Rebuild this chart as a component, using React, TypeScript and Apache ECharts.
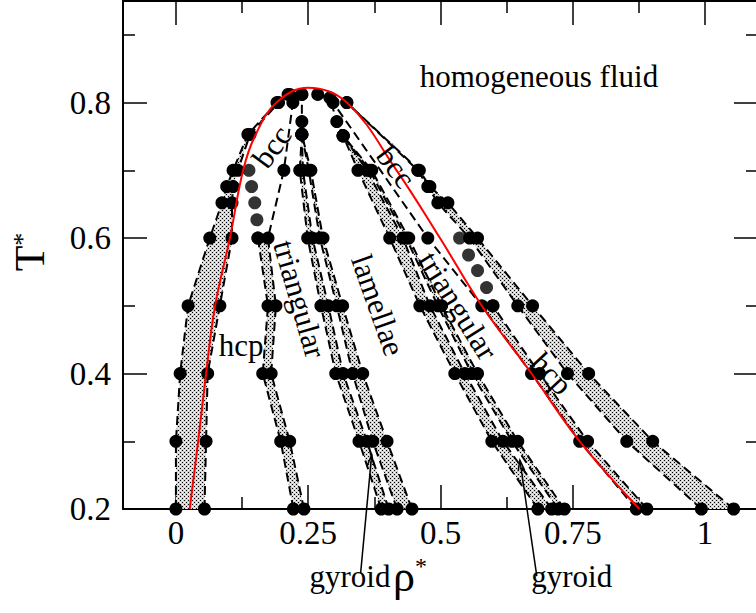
import React, { useEffect, useRef } from 'react';
import * as echarts from 'echarts';

// ---- axis ticks ----
const xMajor = [0, 0.25, 0.5, 0.75, 1];
const xMajorLabels = ['0', '0.25', '0.5', '0.75', '1'];
const xMinor = [0.125, 0.375, 0.625, 0.875];
const yMajor = [0.2, 0.4, 0.6, 0.8];
const yMajorLabels = ['0.2', '0.4', '0.6', '0.8'];
const yMinor = [0.3, 0.5, 0.7, 0.9];

// ---- phase boundaries [rho*, T*] (low-density side) ----
const L1 = [[0.0, 0.2], [0.0, 0.3], [0.008, 0.4], [0.023, 0.5], [0.064, 0.6], [0.087, 0.652], [0.096, 0.676], [0.108, 0.7], [0.136, 0.753], [0.191, 0.8], [0.212, 0.812]];
const L2 = [[0.054, 0.2], [0.057, 0.3], [0.06, 0.4], [0.083, 0.5], [0.106, 0.6], [0.106, 0.652], [0.108, 0.676], [0.117, 0.7], [0.14, 0.753], [0.194, 0.8], [0.215, 0.812]];
const L3 = [[0.222, 0.2], [0.198, 0.3], [0.164, 0.4], [0.174, 0.5], [0.155, 0.6]];
const L4 = [[0.242, 0.2], [0.215, 0.3], [0.18, 0.4], [0.189, 0.5], [0.174, 0.6], [0.204, 0.7], [0.221, 0.8], [0.238, 0.812]];
const L5 = [[0.388, 0.2], [0.346, 0.3], [0.302, 0.4], [0.274, 0.5], [0.249, 0.6], [0.234, 0.7], [0.238, 0.753], [0.238, 0.772], [0.238, 0.812]];
const L6 = [[0.402, 0.2], [0.361, 0.3], [0.316, 0.4], [0.288, 0.5], [0.258, 0.6], [0.24, 0.7], [0.238, 0.753]];
const L7 = [[0.418, 0.2], [0.372, 0.3], [0.334, 0.4], [0.304, 0.5], [0.272, 0.6], [0.251, 0.7], [0.238, 0.753]];
const L8 = [[0.446, 0.2], [0.399, 0.3], [0.353, 0.4], [0.315, 0.5], [0.278, 0.6], [0.255, 0.7], [0.238, 0.753]];
const hcpBccLeft = [[0.155, 0.6], [0.153, 0.627], [0.149, 0.652], [0.143, 0.676], [0.138, 0.7]];

// ---- phase boundaries (high-density side) ----
const R1 = [[0.684, 0.2], [0.597, 0.3], [0.527, 0.4], [0.461, 0.5], [0.404, 0.6], [0.344, 0.7], [0.316, 0.751], [0.304, 0.772], [0.291, 0.807]];
const R2 = [[0.71, 0.2], [0.618, 0.3], [0.546, 0.4], [0.48, 0.5], [0.429, 0.6], [0.361, 0.7], [0.316, 0.751]];
const R3 = [[0.722, 0.2], [0.635, 0.3], [0.559, 0.4], [0.495, 0.5], [0.435, 0.6], [0.366, 0.7], [0.316, 0.751]];
const R4 = [[0.734, 0.2], [0.646, 0.3], [0.57, 0.4], [0.502, 0.5], [0.44, 0.6], [0.37, 0.7], [0.316, 0.751]];
const R5 = [[0.87, 0.2], [0.763, 0.3], [0.672, 0.4], [0.578, 0.5], [0.476, 0.6], [0.297, 0.8], [0.268, 0.812]];
const R6 = [[0.89, 0.2], [0.778, 0.3], [0.687, 0.4], [0.599, 0.5]];
const R7 = [[0.993, 0.2], [0.852, 0.3], [0.74, 0.4], [0.646, 0.5], [0.555, 0.6], [0.495, 0.652], [0.476, 0.676], [0.457, 0.7], [0.323, 0.8]];
const R8 = [[1.054, 0.2], [0.901, 0.3], [0.78, 0.4], [0.674, 0.5], [0.57, 0.6], [0.514, 0.652], [0.48, 0.676], [0.46, 0.7], [0.323, 0.8]];
const hcpBccRight = [[0.536, 0.6], [0.553, 0.575], [0.57, 0.552], [0.587, 0.527], [0.599, 0.5]];

// ---- red curve ----
const redCurve = [[0.026, 0.2], [0.042, 0.3], [0.057, 0.4], [0.074, 0.5], [0.102, 0.6], [0.127, 0.7], [0.149, 0.75], [0.19, 0.8], [0.25, 0.822], [0.323, 0.8], [0.417, 0.7], [0.499, 0.6], [0.578, 0.5], [0.672, 0.4], [0.763, 0.3], [0.876, 0.2]];

const boundaryLines = [L1, L2, L3, L4, L5, L6, L7, L8, R1, R2, R3, R4, R5, R6, R7, R8];
const bands = [
  [L1, L2], [L3, L4.slice(0, 5)], [L5.slice(0, 7), L6], [L7, L8],
  [R1.slice(0, 7), R2], [R3, R4], [R5.slice(0, 4), R6], [R7, R8],
];

// ---- annotations [rho*, T*] ----
const regionLabels = [
  { text: 'homogeneous fluid', at: [0.686, 0.838], rot: 0 },
  { text: 'bcc', at: [0.181, 0.735], rot: 0.94 },
  { text: 'bcc', at: [0.416, 0.705], rot: -0.925 },
  { text: 'triangular', at: [0.234, 0.51], rot: -1.29 },
  { text: 'lamellae', at: [0.382, 0.501], rot: -1.23 },
  { text: 'triangular', at: [0.533, 0.5], rot: -1.01 },
  { text: 'hcp', at: [0.71, 0.4], rot: -0.82 },
  { text: 'hcp', at: [0.123, 0.442], rot: 0 },
  { text: 'gyroid', at: [0.329, 0.1], rot: 0 },
  { text: 'gyroid', at: [0.748, 0.1], rot: 0 },
];
const arrows = [
  { from: [0.349, 0.105], to: [0.37, 0.28] },
  { from: [0.682, 0.101], to: [0.65, 0.272] },
];

const FONT = '"Liberation Serif", "Times New Roman", serif';

export default function App() {
  const ref = useRef<HTMLDivElement>(null);
  useEffect(() => {
    const chart = echarts.init(ref.current!, null, { renderer: 'svg' });

    const c = document.createElement('canvas');
    c.width = 4; c.height = 4;
    const ctx = c.getContext('2d')!;
    ctx.fillStyle = '#d2d2d2'; ctx.fillRect(0, 0, 4, 4);
    ctx.fillStyle = '#000'; ctx.fillRect(0, 0, 1, 1); ctx.fillRect(2, 2, 1, 1);
    ctx.fillStyle = '#fff'; ctx.fillRect(2, 0, 1, 1); ctx.fillRect(0, 2, 1, 1);
    const pattern: any = { image: c, repeat: 'repeat', imageWidth: 4, imageHeight: 4 };

    const axisCommon = (extra: any) => ({
      type: 'value', splitLine: { show: false }, ...extra,
    });
    const tick = (vals: number[], len: number) => ({
      show: true, inside: true, length: len, customValues: vals, lineStyle: { color: '#000', width: 1.5 },
    });
    const line = (show: boolean) => ({ show, onZero: false, lineStyle: { color: '#000', width: 2 } });
    const noLabel = { show: false };

    const xAxes = [
      axisCommon({ position: 'bottom', min: -0.1, max: 1.1, axisLine: line(true), axisTick: tick(xMajor, 24),
        axisLabel: { show: true, customValues: xMajor, margin: 7, color: '#000', fontSize: 33, fontFamily: FONT,
          formatter: (v: number) => xMajorLabels[xMajor.findIndex((m) => Math.abs(m - v) < 1e-6)] ?? '' } }),
      axisCommon({ position: 'bottom', min: -0.1, max: 1.1, axisLine: line(false), axisTick: tick(xMinor, 12), axisLabel: noLabel }),
      axisCommon({ position: 'top', min: -0.1, max: 1.1, axisLine: line(true), axisTick: tick(xMajor, 24), axisLabel: noLabel }),
      axisCommon({ position: 'top', min: -0.1, max: 1.1, axisLine: line(false), axisTick: tick(xMinor, 12), axisLabel: noLabel }),
    ];
    const yAxes = [
      axisCommon({ position: 'left', min: 0.2, max: 0.95, axisLine: line(true), axisTick: tick(yMajor, 24),
        axisLabel: { show: true, customValues: yMajor, margin: 12, color: '#000', fontSize: 33, fontFamily: FONT,
          formatter: (v: number) => yMajorLabels[yMajor.findIndex((m) => Math.abs(m - v) < 1e-6)] ?? '' } }),
      axisCommon({ position: 'left', min: 0.2, max: 0.95, axisLine: line(false), axisTick: tick(yMinor, 12), axisLabel: noLabel }),
      axisCommon({ position: 'right', min: 0.2, max: 0.95, axisLine: line(true), axisTick: tick(yMajor, 24), axisLabel: noLabel }),
      axisCommon({ position: 'right', min: 0.2, max: 0.95, axisLine: line(false), axisTick: tick(yMinor, 12), axisLabel: noLabel }),
    ];

    const series: any[] = [];
    series.push({
      type: 'custom', coordinateSystem: 'cartesian2d', clip: true, silent: true, z: 1,
      data: bands.map(() => [0.5, 0.5]),
      renderItem: (params: any, api: any) => {
        const b = bands[params.dataIndex];
        const pts = [...b[0], ...b[1].slice().reverse()].map((p) => api.coord(p));
        return { type: 'polygon', shape: { points: pts }, style: { fill: pattern, stroke: null } };
      },
    });
    boundaryLines.forEach((ln) => {
      series.push({
        type: 'line', data: ln, symbol: 'circle', symbolSize: 13, silent: true, z: 3,
        itemStyle: { color: '#000' }, lineStyle: { color: '#000', width: 2, type: [9, 5] },
      });
    });
    [hcpBccLeft, hcpBccRight].forEach((col) => {
      series.push({ type: 'scatter', data: col, symbol: 'circle', symbolSize: 13, itemStyle: { color: '#000' }, silent: true, z: 3 });
    });
    series.push({
      type: 'line', data: redCurve, smooth: 0.4, symbol: 'none', silent: true, z: 4,
      lineStyle: { color: '#ff0000', width: 2 },
    });

    chart.setOption({
      animation: false,
      backgroundColor: '#fff',
      grid: { left: 123, right: -2, top: 1, bottom: 104, containLabel: false, outerBoundsMode: 'none' },
      xAxis: xAxes,
      yAxis: yAxes,
      series,
    });

    const toPx = (p: number[]) => chart.convertToPixel({ xAxisIndex: 0, yAxisIndex: 0 }, p) as number[];
    const graphic: any[] = [];
    regionLabels.forEach((l) => {
      const [x, y] = toPx(l.at);
      graphic.push({
        type: 'text', x, y, rotation: l.rot, z: 10,
        style: { text: l.text, fontSize: 31, fontFamily: FONT, fill: '#000', align: 'center', verticalAlign: 'middle' },
      });
    });
    arrows.forEach((a) => {
      const [x0, y0] = toPx(a.from);
      const [x1, y1] = toPx(a.to);
      const ang = Math.atan2(y0 - y1, x0 - x1);
      const hl = 11, spread = 0.3;
      graphic.push({ type: 'line', z: 10, shape: { x1: x0, y1: y0, x2: x1, y2: y1 }, style: { stroke: '#000', lineWidth: 1.5 } });
      graphic.push({
        type: 'polyline', z: 10,
        shape: { points: [[x1 + hl * Math.cos(ang - spread), y1 + hl * Math.sin(ang - spread)], [x1, y1], [x1 + hl * Math.cos(ang + spread), y1 + hl * Math.sin(ang + spread)]] },
        style: { stroke: '#000', lineWidth: 1.5, fill: null },
      });
    });
    // axis titles (single rich texts with a superscript star)
    graphic.push({ type: 'text', x: 30, y: 252, rotation: Math.PI / 2, z: 10,
      style: { text: '{r|T}{s|*}', align: 'center', verticalAlign: 'middle',
        rich: { r: { fontSize: 42, fontFamily: FONT, fill: '#000', verticalAlign: 'middle' },
                s: { fontSize: 26, fontFamily: FONT, fill: '#000', verticalAlign: 'top' } } } });
    graphic.push({ type: 'text', x: 410, y: 576, z: 10,
      style: { text: '{r|ρ}{s|*}', align: 'center', verticalAlign: 'middle',
        rich: { r: { fontSize: 44, fontFamily: FONT, fill: '#000', verticalAlign: 'middle' },
                s: { fontSize: 24, fontFamily: FONT, fill: '#000', verticalAlign: 'top' } } } });

    chart.setOption({ graphic });
    return () => chart.dispose();
  }, []);
  return <div ref={ref} style={{ position: 'fixed', left: 0, top: 0, width: 756, height: 613 }} />;
}
